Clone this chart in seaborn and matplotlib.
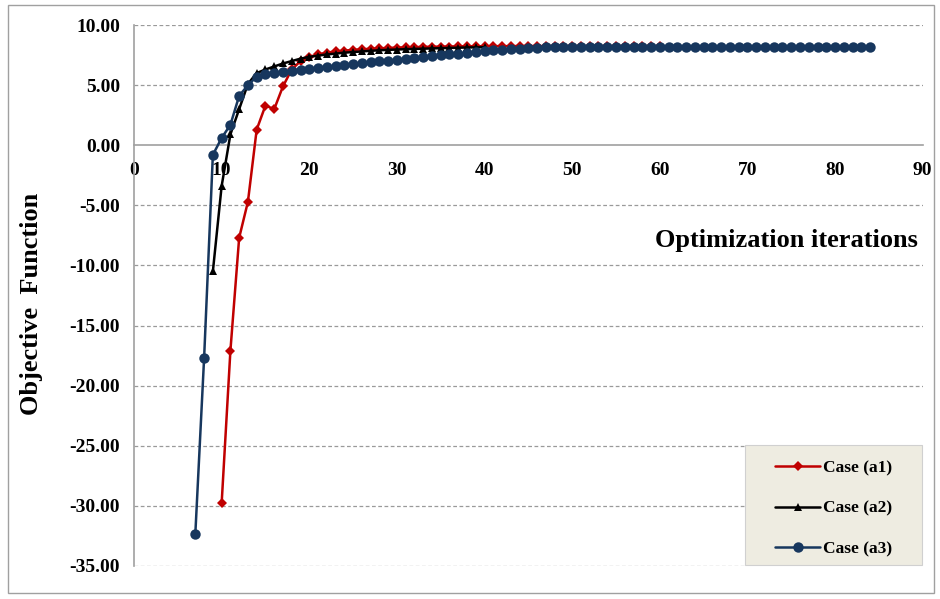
import numpy as np
import pandas as pd
import matplotlib
matplotlib.use("Agg")
import matplotlib.pyplot as plt
import seaborn as sns
from matplotlib.patches import Rectangle
from matplotlib.ticker import FormatStrFormatter

# ---- data ----
x_a1 = list(range(10, 61))
y_a1 = [-29.8, -17.1, -7.7, -4.7, 1.3, 3.3, 3.0, 4.9, 6.3, 7.0,
        7.35, 7.55, 7.7, 7.8, 7.87, 7.93, 7.98, 8.02, 8.06, 8.09,
        8.12, 8.14, 8.16, 8.18, 8.19, 8.2, 8.21, 8.22, 8.22, 8.23,
        8.23, 8.24, 8.24, 8.24, 8.25, 8.25, 8.25, 8.25, 8.25, 8.25,
        8.25, 8.25, 8.25, 8.25, 8.25, 8.25, 8.25, 8.25, 8.25, 8.25,
        8.25]
x_a2 = list(range(9, 41))
y_a2 = [-10.5, -3.4, 0.9, 3.0, 5.1, 6.0, 6.3, 6.55, 6.8, 7.0,
        7.2, 7.35, 7.45, 7.55, 7.62, 7.7, 7.75, 7.8, 7.85, 7.9,
        7.93, 7.96, 7.99, 8.01, 8.03, 8.05, 8.07, 8.09, 8.11, 8.13,
        8.14, 8.15]
x_a3 = list(range(7, 85))
y_a3 = [-32.3, -17.7, -0.8, 0.6, 1.7, 4.1, 5.0, 5.7, 5.9, 6.0,
        6.1, 6.2, 6.28, 6.36, 6.44, 6.52, 6.6, 6.68, 6.76, 6.84,
        6.92, 6.98, 7.04, 7.1, 7.15, 7.23, 7.31, 7.39, 7.47, 7.55,
        7.62, 7.69, 7.76, 7.83, 7.9, 7.95, 8.0, 8.04, 8.08, 8.1,
        8.13, 8.16, 8.18, 8.2, 8.2, 8.2, 8.2, 8.2, 8.2, 8.2,
        8.2, 8.2, 8.2, 8.2, 8.2, 8.2, 8.2, 8.2, 8.2, 8.2,
        8.2, 8.2, 8.2, 8.2, 8.2, 8.2, 8.2, 8.2, 8.2, 8.2,
        8.2, 8.2, 8.2, 8.2, 8.2, 8.2, 8.2, 8.2]
labels = ["Case (a1)", "Case (a2)", "Case (a3)"]
x_ticks = [0, 10, 20, 30, 40, 50, 60, 70, 80, 90]
y_ticks = [10, 5, 0, -5, -10, -15, -20, -25, -30, -35]

sns.set_theme(style="white")
plt.rcParams['font.family'] = ['Liberation Serif', 'DejaVu Serif']
plt.rcParams['font.weight'] = 'bold'
plt.rcParams['text.color'] = 'black'
plt.rcParams['xtick.labelcolor'] = 'black'
plt.rcParams['ytick.labelcolor'] = 'black'

fig = plt.figure(figsize=(9.4, 5.99), dpi=100)
ax = fig.add_axes([134/940, 33/599, 788.7/940, 541/599])

red, black, blue = "#C00000", "#000000", "#17375E"
sns.lineplot(x=x_a1, y=y_a1, ax=ax, color=red, marker="D", markersize=5,
             markeredgewidth=0, linewidth=1.8, label=labels[0], zorder=3)
sns.lineplot(x=x_a2, y=y_a2, ax=ax, color=black, marker="^", markersize=5.5,
             markeredgewidth=0, linewidth=1.8, label=labels[1], zorder=4)
sns.lineplot(x=x_a3, y=y_a3, ax=ax, color=blue, marker="o", markersize=7.5,
             markeredgewidth=0, linewidth=1.8, label=labels[2], zorder=5)

ax.set_xlim(0, 90)
ax.set_ylim(-35, 10)
ax.set_xticks(x_ticks)
ax.set_yticks(y_ticks)
ax.yaxis.set_major_formatter(FormatStrFormatter('%.2f'))
for yv in y_ticks:
    if yv != 0:
        ax.axhline(yv, color="#9A9A9A", linestyle=(0, (3, 2)), linewidth=0.9, zorder=1)

for s in ["top", "right"]:
    ax.spines[s].set_visible(False)
ax.spines["bottom"].set_position(("data", 0))
ax.spines["bottom"].set_color("#A0A0A0")
ax.spines["left"].set_color("#A0A0A0")
ax.spines["bottom"].set_linewidth(1.2)
ax.spines["left"].set_linewidth(1.2)
ax.tick_params(axis="both", which="major", direction="out", length=4,
               width=1, color="#A0A0A0", labelsize=14, labelcolor="black")
ax.tick_params(axis="x", pad=8)
ax.tick_params(axis="y", pad=6)
for t in ax.get_xticklabels() + ax.get_yticklabels():
    t.set_fontweight("bold")
ax.set_xlabel("")
ax.set_ylabel("")

fig.text(32/940, 1 - 304/599, "Objective  Function", rotation=90,
         ha="center", va="center", fontsize=19, fontweight="bold", color="black")
fig.text(918/940, 1 - 240/599, "Optimization iterations",
         ha="right", va="center", fontsize=19, fontweight="bold", color="black")

# legend box
ax.add_patch(Rectangle((745/940, 1 - 565/599), 177/940, 120/599,
                       transform=fig.transFigure, clip_on=False,
                       facecolor="#EEECE1", edgecolor="#D0D0D0",
                       linewidth=0.8, zorder=9))
leg = ax.legend(loc="upper left", bbox_to_anchor=(775/940, 1 - 460/599),
                bbox_transform=fig.transFigure,
                frameon=False, prop={"weight": "bold", "size": 12.5},
                handlelength=2.6, labelspacing=1.4, borderpad=0,
                handletextpad=0.15, borderaxespad=0)
leg.set_zorder(10)
for t in leg.get_texts():
    t.set_color("black")

fig.patches.append(Rectangle((8/940, 6/599), 926/940, 588/599,
                             transform=fig.transFigure, fill=False,
                             edgecolor="#A0A0A0", linewidth=1.0))

fig.savefig("out.png", dpi=100)
